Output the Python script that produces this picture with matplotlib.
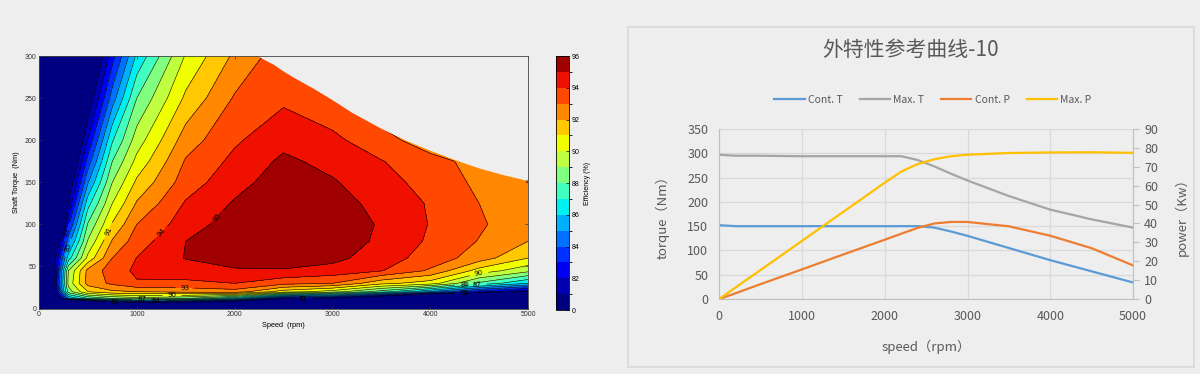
import matplotlib.pyplot as plt
import numpy as np
from matplotlib.colors import ListedColormap, BoundaryNorm
from matplotlib.patches import Rectangle

BG = "#eeeeee"
GREY_TXT = "#595959"
CJK = ["Noto Sans CJK SC", "DejaVu Sans"]

# ---- efficiency map (left) ----
map_speed = [0, 150, 300, 500, 750, 1000, 1500, 2000, 2500, 3000, 3500, 4000, 4500, 5000]
map_torque = [0, 6, 12, 20, 30, 45, 60, 80, 100, 125, 150, 175, 200, 250, 300]
# one row per torque value, one column per speed value (efficiency in %)
efficiency = [
    [0, 0, 0, 0, 0, 0, 0, 0, 0, 0, 0, 0, 0, 0],
    [0, 60, 70, 74, 79, 79.5, 78.5, 77, 70, 65, 60, 55, 50, 45],
    [0, 78, 85, 87, 88, 88.5, 88, 86, 81.5, 81, 78, 74, 70, 65],
    [0, 80, 88.5, 91.0, 91.8, 92.0, 92.3, 92.6, 90.5, 89.5, 87.5, 85.0, 82.5, 81.0],
    [0, 80.5, 89.3, 92.4, 93.2, 93.9, 93.8, 94.0, 93.3, 93.0, 91.3, 90.5, 87.8, 86.0],
    [0, 80.2, 89.0, 92.3, 93.5, 94.2, 94.5, 94.85, 94.9, 94.6, 94.05, 92.85, 90.6, 89.3],
    [0, 80.2, 86.5, 90.3, 93.0, 94.02, 95.05, 95.55, 95.6, 95.3, 94.45, 93.6, 92.5, 91.0],
    [0, 78.7, 84.5, 89.1, 92.1, 93.5, 95.0, 95.6, 95.85, 95.6, 94.8, 93.85, 92.95, 92.0],
    [0, 72, 82.8, 88.1, 91.1, 93.0, 94.5, 95.5, 95.8, 95.6, 94.9, 93.95, 93.15, 92.3],
    [0, 70, 81.1, 86.6, 90.0, 92.1, 94.1, 95.1, 95.7, 95.4, 94.7, 93.9, 93.0, 92.35],
    [0, 68, 79.8, 84.9, 89.0, 91.2, 93.5, 94.65, 95.5, 95.1, 94.4, 93.6, 92.8, 92.0],
    [0, 65, 78.5, 83.4, 88.0, 90.3, 93.1, 94.25, 95.2, 94.7, 94.05, 93.3, 92.7, 91.8],
    [0, 62, 77.5, 82.1, 86.9, 89.5, 92.5, 93.85, 94.7, 94.25, 93.35, 92.5, 92.3, 91.5],
    [0, 55, 72.5, 80.0, 84.5, 88.0, 91.2, 93.1, 93.8, 93.2, 92.2, 91.8, 91.0, 90.5],
    [0, 50, 68, 78.5, 82.6, 86.2, 90.1, 92.2, 93.6, 92.6, 91.5, 90.5, 89.5, 88.5],
]
# max torque envelope drawn on the map
env_speed = [0, 2150, 2230, 2300, 2400, 2500, 2600, 2800, 3000, 3200, 3500, 3750,
             4000, 4250, 4500, 4750, 5000]
env_torque = [310, 306, 301, 296, 290, 282, 275, 262, 248, 233, 214, 200,
              188, 177, 167, 159, 152]

eff_levels = [0] + list(range(81, 97))
eff_colors = ["#000080", "#0000B0", "#0000F0", "#0030FF", "#0070FF", "#00B0FF",
              "#00F0F0", "#40FFC0", "#80FF80", "#C0FF40", "#F0FF00", "#FFC800",
              "#FF8800", "#FF4800", "#F01000", "#A00000"]
cbar_ticks = [0, 82, 84, 86, 88, 90, 92, 94, 96]

# ---- external characteristic curves (right) ----
speed = [0, 200, 500, 1000, 1500, 2000, 2200, 2400, 2600, 2800, 3000, 3500, 4000, 4500, 5000]
cont_t = [152, 150, 150, 150, 150, 150, 150, 150, 147, 139, 130, 105, 80, 57, 34]
max_t = [297, 295, 295, 294, 294, 294, 294, 286, 273, 258, 244, 212, 184, 164, 147]
cont_p = [0, 3.1, 7.9, 15.7, 23.6, 31.4, 34.6, 37.7, 40.0, 40.8, 40.8, 38.5, 33.5, 26.9, 17.8]
max_p = [0, 6.2, 15.4, 30.8, 46.2, 61.6, 67.5, 71.5, 74.0, 75.6, 76.4, 77.3, 77.6, 77.7, 77.4]

fig = plt.figure(figsize=(12, 3.74), dpi=100, facecolor=BG)

# ================= left panel =================
ax1 = fig.add_axes([0.0325, 0.175, 0.4075, 0.675])
ax1.set_facecolor(BG)

cmap = ListedColormap(eff_colors)
norm = BoundaryNorm(eff_levels, cmap.N)
Z = np.array(efficiency)
cf = ax1.contourf(map_speed, map_torque, Z, levels=eff_levels, cmap=cmap, norm=norm)
cs = ax1.contour(map_speed, map_torque, Z, levels=eff_levels[1:-1],
                 colors="k", linewidths=0.4)
ax1.fill_between(env_speed, env_torque, 320, color=BG, linewidth=0, zorder=2.5)

label_pos = [(777, 5), (1050, 11), (1196, 9), (1360, 16), (1493, 24), (726, 91),
             (1186, 97), (1780, 113), (2700, 10), (4355, 16), (4350, 29),
             (4480, 28), (4500, 41), (4940, 145), (283, 91), (283, 73)]
ax1.clabel(cs, manual=label_pos, fmt="%d", fontsize=5, inline=True)

ax1.set_xlim(0, 5000)
ax1.set_ylim(0, 300)
ax1.set_xticks(range(0, 5001, 1000))
ax1.set_yticks(range(0, 301, 50))
ax1.tick_params(direction="in", length=2.5, width=0.5, top=True, right=True,
                labelsize=5, pad=2, colors="#333333")
for s in ax1.spines.values():
    s.set_linewidth(0.6)
    s.set_color("#444444")
ax1.set_xlabel("Speed  (rpm)", fontsize=5.3, family="Liberation Sans", labelpad=3)
ax1.set_ylabel("Shaft Torque  (Nm)", fontsize=5.3, family="Liberation Sans", labelpad=3)
for t in ax1.get_xticklabels() + ax1.get_yticklabels():
    t.set_family("Liberation Sans")

cax = fig.add_axes([0.4633, 0.171, 0.0108, 0.679])
cb = fig.colorbar(cf, cax=cax, spacing="uniform", ticks=cbar_ticks)
cb.ax.tick_params(labelsize=5, length=2, width=0.5, direction="in", pad=2)
cb.outline.set_linewidth(0.6)
cb.set_label("Efficiency (%)", fontsize=5, family="Liberation Sans", labelpad=3)
for t in cb.ax.get_yticklabels():
    t.set_family("Liberation Sans")

# ================= right panel =================
fig.patches.append(Rectangle((0.5233, 0.0187), 0.4717, 0.909, transform=fig.transFigure,
                             fill=False, edgecolor="#d9d9d9", linewidth=1.2))

ax2 = fig.add_axes([0.5994, 0.2005, 0.3448, 0.4545])
ax2.set_facecolor(BG)
l1, = ax2.plot(speed, cont_t, color="#5B9BD5", lw=1.6)
l2, = ax2.plot(speed, max_t, color="#A5A5A5", lw=1.6)
ax2.set_xlim(0, 5000)
ax2.set_ylim(0, 350)
ax2.set_xticks(range(0, 5001, 1000))
ax2.set_yticks(range(0, 351, 50))
ax2.grid(color="#d9d9d9", linewidth=0.9)
ax2.set_axisbelow(True)
ax2.tick_params(length=0, labelsize=9, colors=GREY_TXT, pad=8)
for side in ["top", "right"]:
    ax2.spines[side].set_visible(False)
for side in ["left", "bottom"]:
    ax2.spines[side].set_color("#bfbfbf")

ax2r = ax2.twinx()
l3, = ax2r.plot(speed, cont_p, color="#ED7D31", lw=1.6)
l4, = ax2r.plot(speed, max_p, color="#FFC000", lw=1.6)
ax2r.set_ylim(0, 90)
ax2r.set_yticks(range(0, 91, 10))
ax2r.tick_params(length=4, color="#bfbfbf", labelsize=9, labelcolor=GREY_TXT, pad=4)
for side in ["top", "left", "bottom"]:
    ax2r.spines[side].set_visible(False)
ax2r.spines["right"].set_color("#bfbfbf")

for t in ax2.get_xticklabels() + ax2.get_yticklabels() + ax2r.get_yticklabels():
    t.set_family(CJK)

ax2.set_ylabel("torque（Nm）", fontsize=9.5, color=GREY_TXT, family=CJK)
ax2.yaxis.set_label_coords(-0.119, 0.5)
ax2r.set_ylabel("power（Kw）", fontsize=9.5, color=GREY_TXT, family=CJK)
ax2r.yaxis.set_label_coords(1.101, 0.5)
ax2.set_xlabel("speed（rpm）", fontsize=9.5, color=GREY_TXT, family=CJK)
ax2.xaxis.set_label_coords(0.5, -0.241)

fig.text(0.759, 0.866, "外特性参考曲线-10", ha="center", va="center",
         fontsize=15, color=GREY_TXT, family=CJK)
fig.legend([l1, l2, l3, l4], ["Cont. T", "Max. T", "Cont. P", "Max. P"],
           loc="center", bbox_to_anchor=(0.7775, 0.7326), ncol=4, frameon=False,
           prop={"family": CJK, "size": 7.5}, labelcolor=GREY_TXT,
           handlelength=2.9, handletextpad=0.35, columnspacing=1.6)

fig.savefig("out.png", dpi=100, facecolor=BG)
